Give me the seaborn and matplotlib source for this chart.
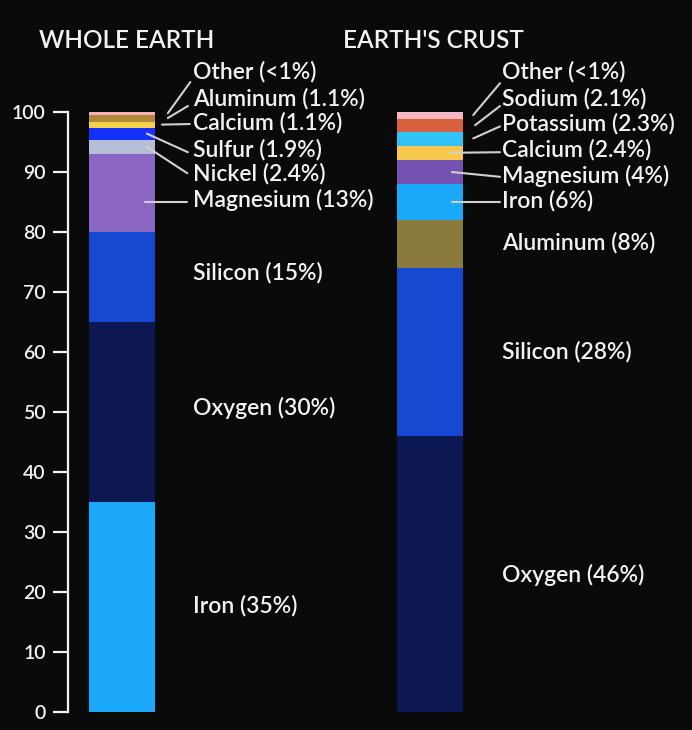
import matplotlib
matplotlib.use("Agg")
import matplotlib.pyplot as plt
import seaborn as sns
import pandas as pd

# ---------------- data ----------------
categories = ["WHOLE EARTH", "EARTH'S CRUST"]

whole_elements = ["Iron", "Oxygen", "Silicon", "Magnesium", "Nickel",
                  "Sulfur", "Calcium", "Aluminum", "Other"]
whole_values = [35, 30, 15, 13, 2.4, 1.9, 1.1, 1.1, 0.5]
whole_labels = ["Iron (35%)", "Oxygen (30%)", "Silicon (15%)", "Magnesium (13%)",
                "Nickel (2.4%)", "Sulfur (1.9%)", "Calcium (1.1%)",
                "Aluminum (1.1%)", "Other (<1%)"]

crust_elements = ["Oxygen", "Silicon", "Aluminum", "Iron", "Magnesium",
                  "Calcium", "Potassium", "Sodium", "Other"]
crust_values = [46, 28, 8, 6, 4, 2.4, 2.3, 2.1, 1.2]
crust_labels = ["Oxygen (46%)", "Silicon (28%)", "Aluminum (8%)", "Iron (6%)",
                "Magnesium (4%)", "Calcium (2.4%)", "Potassium (2.3%)",
                "Sodium (2.1%)", "Other (<1%)"]

yticks = [0, 10, 20, 30, 40, 50, 60, 70, 80, 90, 100]

# ---------------- style ----------------
BG = "#0a0a0a"
FG = "#f2f2f2"
LINE = "#d0d0d0"

whole_colors = ["#1ca8f8", "#0d1752", "#1648d2", "#8a66c2", "#b4bed6",
                "#1530ff", "#f4d04c", "#b08838", "#f4b0b8"]
crust_colors = ["#0d1752", "#1648d2", "#8a7a3c", "#1aa8f8", "#7452b2",
                "#f8c84c", "#30c4f6", "#d8603e", "#f4b8c4"]

# label layout (y in data units), leader lines: (x0off, y0, x1off, y1) or None
whole_label_y = [17.8, 50.7, 73.3, 85.3, 89.7, 93.8, 98.2, 102.3, 106.7]
whole_lines = [None, None, None,
               (0.075, 85.0, 0.212, 85.0),
               (0.081, 94.2, 0.212, 89.8),
               (0.081, 96.4, 0.214, 93.3),
               (0.130, 97.9, 0.220, 98.0),
               (0.149, 99.0, 0.214, 101.0),
               (0.149, 99.8, 0.222, 105.0)]

crust_label_y = [22.8, 60.0, 78.3, 85.2, 89.3, 93.7, 98.0, 102.3, 106.7]
crust_lines = [None, None, None,
               (0.071, 85.0, 0.227, 85.0),
               (0.071, 90.0, 0.227, 89.2),
               (0.065, 93.2, 0.227, 93.3),
               (0.140, 95.6, 0.227, 97.6),
               (0.146, 97.8, 0.227, 101.0),
               (0.140, 99.5, 0.227, 104.8)]

BAR_W = 0.214

sns.set_theme(style="dark", rc={
    "figure.facecolor": BG, "axes.facecolor": BG, "savefig.facecolor": BG,
    "axes.edgecolor": FG, "text.color": FG, "ytick.color": FG,
    "ytick.labelcolor": FG, "axes.grid": False,
})
plt.rcParams["font.family"] = ["Lato", "DejaVu Sans"]

fig = plt.figure(figsize=(6.92, 7.30), dpi=100)
ax = fig.add_axes([68 / 692, 0.0, 1 - 68 / 692, 1.0])
ax.set_facecolor(BG)


def draw_stack(cat, values, colors):
    cum = pd.Series(values).cumsum().tolist()
    # draw from the tallest cumulative down so lower segments overlay
    for top, col in reversed(list(zip(cum, colors))):
        df = pd.DataFrame({"cat": [cat], "val": [top]})
        sns.barplot(data=df, x="cat", y="val", order=categories, color=col,
                    width=BAR_W, saturation=1, linewidth=0, ax=ax)
    return cum


def draw_labels(idx, labels, label_y, lines):
    for lab, ly, ln in zip(labels, label_y, lines):
        ax.text(idx + 0.232, ly, lab, ha="left", va="center", fontsize=16.5,
                color=FG, fontweight="semibold")
        if ln is not None:
            x0, y0, x1, y1 = ln
            ax.plot([idx + x0, idx + x1], [y0, y1], color=LINE, lw=1.5,
                    solid_capstyle="round", zorder=5)


draw_stack(categories[0], whole_values, whole_colors)
draw_stack(categories[1], crust_values, crust_colors)
draw_labels(0, whole_labels, whole_label_y, whole_lines)
draw_labels(1, crust_labels, crust_label_y, crust_lines)

ax.text(-0.270, 112, categories[0], ha="left", va="center", fontsize=17.5,
        color=FG, fontweight="semibold", clip_on=False)
ax.text(0.717, 112, categories[1], ha="left", va="center", fontsize=17.5,
        color=FG, fontweight="semibold", clip_on=False)

ax.set_xlim(-0.175, 1.85)
ax.set_ylim(-3, 118.67)
ax.set_xticks([])
ax.set_xlabel("")
ax.set_ylabel("")
ax.set_yticks(yticks)
ax.set_yticklabels([str(t) for t in yticks], fontsize=14,
                   fontweight="semibold")
ax.tick_params(axis="y", direction="out", length=11, width=1.6, color=FG,
               pad=5, left=True)
for s in ["top", "right", "bottom"]:
    ax.spines[s].set_visible(False)
ax.spines["left"].set_bounds(0, 100)
ax.spines["left"].set_linewidth(1.6)
ax.spines["left"].set_color(FG)

fig.savefig("out.png", dpi=100, facecolor=BG)
